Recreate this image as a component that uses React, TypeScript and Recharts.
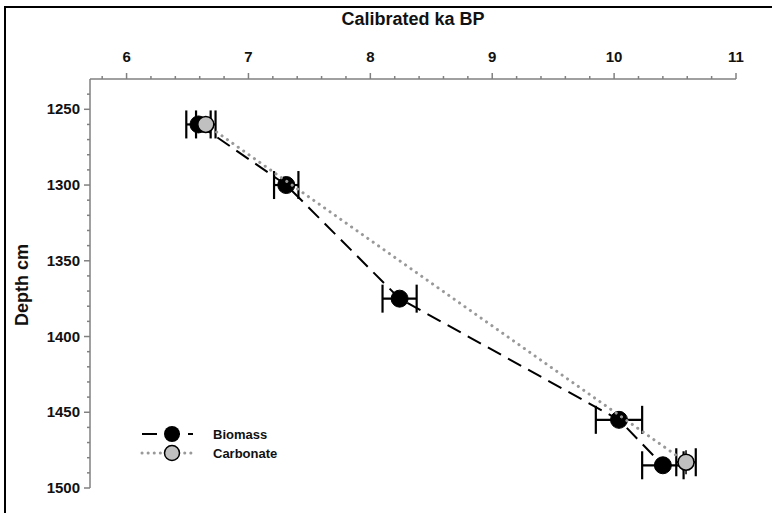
import React from 'react';
import { ScatterChart, Scatter, XAxis, YAxis, ErrorBar } from 'recharts';

// Biomass radiocarbon ages (calibrated ka BP) by core depth
const biomassDepth = [1260, 1300, 1375, 1455, 1485];
const biomassAge = [6.59, 7.31, 8.24, 10.04, 10.4];
const biomassAgeErr = [0.1, 0.1, 0.14, 0.19, 0.17];

// Carbonate ages
const carbonateDepth = [1260, 1483];
const carbonateAge = [6.65, 10.59];
const carbonateAgeErr = [0.08, 0.08];
const carbonateDepthErr = [0, 8];

// Axis ranges and labelled ticks
const ageDomain = [5.7, 11];
const ageLabels = [6, 7, 8, 9, 10, 11];
const depthDomain = [1230, 1500];
const depthLabels = [1250, 1300, 1350, 1400, 1450, 1500];

// minor ticks: every 0.2 ka and every 10 cm
const ageTicks: number[] = [];
for (let t = 58; t <= 110; t += 2) ageTicks.push(t / 10);
const depthTicks: number[] = [];
for (let d = 1240; d <= 1500; d += 10) depthTicks.push(d);

const biomassData = biomassDepth.map((depth, i) => ({
  depth,
  age: biomassAge[i],
  ageErr: biomassAgeErr[i],
}));
const carbonateData = carbonateDepth.map((depth, i) => ({
  depth,
  age: carbonateAge[i],
  ageErr: carbonateAgeErr[i],
  depthErr: carbonateDepthErr[i],
}));

const AXIS_GREY = '#808080';
const FONT = '"Liberation Sans", Arial, sans-serif';

const AgeTick = (props: any) => {
  const { x, y, payload } = props;
  const v = payload.value as number;
  const major = ageLabels.some((l) => Math.abs(l - v) < 1e-6);
  return (
    <g>
      <line x1={x} x2={x} y1={y} y2={y - (major ? 6 : 3)} stroke={AXIS_GREY} strokeWidth={1.5} />
      {major && (
        <text x={x} y={y - 17} textAnchor="middle" fontWeight="bold" fontSize={15} fill="#111" fontFamily={FONT}>
          {v}
        </text>
      )}
    </g>
  );
};

const DepthTick = (props: any) => {
  const { x, y, payload } = props;
  const v = payload.value as number;
  const major = depthLabels.includes(v);
  return (
    <g>
      <line x1={x} x2={x - (major ? 6 : 3)} y1={y} y2={y} stroke={AXIS_GREY} strokeWidth={1.5} />
      {major && (
        <text x={x - 10} y={y + 5} textAnchor="end" fontWeight="bold" fontSize={15} fill="#111" fontFamily={FONT}>
          {v}
        </text>
      )}
    </g>
  );
};

const BiomassDot = (props: any) => (
  <circle cx={props.cx} cy={props.cy} r={8.5} fill="#000" stroke="#000" strokeWidth={1} />
);
const CarbonateDot = (props: any) => (
  <circle cx={props.cx} cy={props.cy} r={8} fill="#c0c0c0" stroke="#000" strokeWidth={1.5} />
);

const Legend = () => (
  <svg width={180} height={40} style={{ position: 'absolute', left: 136, top: 423 }}>
    <g transform="translate(0,11)">
      <line x1={6} x2={57} y1={0} y2={0} stroke="#000" strokeWidth={2} strokeDasharray="15 8" />
      <circle cx={36} cy={0} r={8} fill="#000" />
      <text x={77} y={4.5} fontWeight="bold" fontSize={13} fontFamily={FONT} fill="#111">Biomass</text>
    </g>
    <g transform="translate(0,30)">
      <line x1={6} x2={57} y1={0} y2={0} stroke="#999" strokeWidth={3} strokeDasharray="0.1 6" strokeLinecap="round" />
      <circle cx={36} cy={0} r={7.5} fill="#c0c0c0" stroke="#000" strokeWidth={1.5} />
      <text x={77} y={4.5} fontWeight="bold" fontSize={13} fontFamily={FONT} fill="#111">Carbonate</text>
    </g>
  </svg>
);

export default function App() {
  return (
    <div
      style={{
        position: 'fixed',
        left: 0,
        top: 0,
        width: 772,
        height: 513,
        background: '#fff',
        overflow: 'hidden',
        fontFamily: FONT,
      }}
    >
      <div
        style={{
          position: 'absolute',
          left: 4,
          top: 6,
          width: 820,
          height: 560,
          border: '2px solid #000',
          boxSizing: 'border-box',
        }}
      />
      <ScatterChart
        width={772}
        height={513}
        margin={{ top: 0, right: 36, bottom: 25, left: 0 }}
        style={{ position: 'absolute', left: 0, top: 0 }}
      >
        <XAxis
          dataKey="age"
          type="number"
          orientation="top"
          domain={ageDomain}
          ticks={ageTicks}
          interval={0}
          allowDataOverflow
          height={79}
          tickSize={0}
          tickMargin={0}
          tickLine={false}
          tick={<AgeTick />}
          axisLine={{ stroke: AXIS_GREY, strokeWidth: 1.5 }}
        />
        <YAxis
          dataKey="depth"
          type="number"
          reversed
          domain={depthDomain}
          ticks={depthTicks}
          interval={0}
          allowDataOverflow
          width={90}
          tickSize={0}
          tickMargin={0}
          tickLine={false}
          tick={<DepthTick />}
          axisLine={{ stroke: AXIS_GREY, strokeWidth: 1.5 }}
        />
        <Scatter
          name="Biomass"
          data={biomassData}
          line={{ stroke: '#000', strokeWidth: 2, strokeDasharray: '15 8' }}
          lineType="joint"
          shape={BiomassDot}
          isAnimationActive={false}
        >
          <ErrorBar dataKey="ageErr" direction="x" width={14} stroke="#000" strokeWidth={2.2} isAnimationActive={false} />
        </Scatter>
        <Scatter
          name="Carbonate"
          data={carbonateData}
          line={{ stroke: '#999', strokeWidth: 3, strokeDasharray: '0.1 6.5', strokeLinecap: 'round' }}
          lineType="joint"
          shape={CarbonateDot}
          isAnimationActive={false}
        >
          <ErrorBar dataKey="ageErr" direction="x" width={14} stroke="#000" strokeWidth={2.2} isAnimationActive={false} />
          <ErrorBar dataKey="depthErr" direction="y" width={0} stroke="#000" strokeWidth={1.5} isAnimationActive={false} />
        </Scatter>
      </ScatterChart>
      <div
        style={{
          position: 'absolute',
          left: 0,
          width: 826,
          top: 9,
          textAlign: 'center',
          fontWeight: 'bold',
          fontSize: 18,
          color: '#111',
        }}
      >
        Calibrated ka BP
      </div>
      <div
        style={{
          position: 'absolute',
          left: 22,
          top: 285,
          transform: 'translate(-50%, -50%) rotate(-90deg)',
          fontWeight: 'bold',
          fontSize: 18,
          color: '#111',
          whiteSpace: 'nowrap',
        }}
      >
        Depth cm
      </div>
      <Legend />
    </div>
  );
}
